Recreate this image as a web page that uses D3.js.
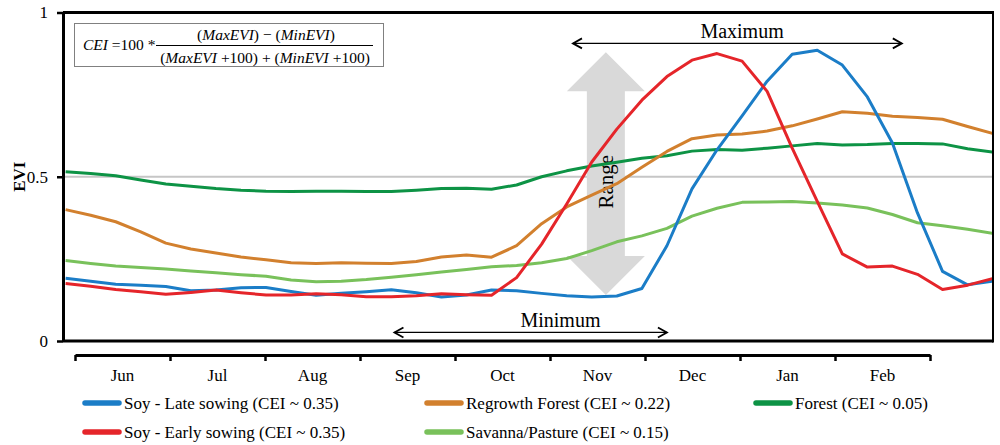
<!DOCTYPE html>
<html>
<head>
<meta charset="utf-8">
<script src="https://cdn.jsdelivr.net/npm/d3@7"></script>
<style>
  body { margin: 0; background: #fff; }
  svg { display: block; font-family: 'Liberation Serif', 'Times New Roman', serif; }
</style>
</head>
<body>
<div id="chart"></div>
<script>
// 8-day composites, day 0 = 1 June
const days = [-3, 5, 13, 21, 29, 37, 45, 53, 61, 69, 77, 85, 93, 101, 109, 117, 125, 133, 141,
  149, 157, 165, 173, 181, 189, 197, 205, 213, 221, 229, 237, 245, 253, 261, 269, 277, 285, 293];

const months = ['Jun', 'Jul', 'Aug', 'Sep', 'Oct', 'Nov', 'Dec', 'Jan', 'Feb'];
const monthDays = 273; // 1 Jun -> 1 Mar

const soyLate = [.191, .182, .173, .170, .166, .153, .155, .162, .163, .151, .139, .145, .150,
  .156, .147, .134, .140, .155, .153, .145, .138, .134, .137, .160, .290, .463, .582, .685,
  .791, .873, .885, .840, .743, .603, .390, .212, .171, .182];
const soyEarly = [.175, .167, .157, .150, .142, .148, .155, .147, .140, .140, .144, .141, .135,
  .135, .138, .144, .141, .139, .193, .295, .417, .545, .645, .733, .805, .855, .875, .852,
  .760, .587, .425, .265, .225, .228, .203, .157, .170, .190];
const regrowth = [.400, .383, .363, .332, .298, .280, .268, .256, .247, .238, .236, .238, .237,
  .236, .242, .256, .262, .255, .290, .357, .408, .444, .479, .529, .577, .616, .627, .630,
  .639, .655, .676, .698, .693, .684, .680, .675, .653, .632];
const forest = [.515, .510, .503, .490, .478, .471, .464, .459, .456, .455, .456, .456, .455,
  .455, .459, .464, .465, .462, .475, .500, .518, .533, .544, .556, .564, .578, .583, .581,
  .587, .594, .601, .597, .598, .601, .601, .600, .585, .575];
const savanna = [.245, .236, .228, .224, .219, .213, .208, .202, .197, .186, .180, .182, .187,
  .194, .202, .210, .218, .226, .230, .238, .251, .275, .302, .320, .343, .380, .404, .422,
  .423, .425, .420, .414, .405, .385, .360, .351, .340, .328];

const yTicks = [0, 0.5, 1];

// annotation anchors in data units (day, EVI)
const maxSpan = [159, 264];
const maxLevel = 0.906;
const maxLabelDay = 213;
const minSpan = [102, 189];
const minLevel = 0.026;
const minLabelDay = 155;
const rangeDay = 169.5;
const rangeSpan = [0.140, 0.879];

class EviChart {
  constructor(element, options) {
    const defaults = {
      width: 1000,
      height: 445,
      plot: { left: 63, right: 993, top: 12.5, bottom: 341 },
      axisY: 355,
    };
    this.element = element;
    Object.assign(this, defaults, options);
    this.init();
  }

  init() {
    const { element, width, height, plot } = this;

    this.svg = d3.select(element)
      .append('svg')
      .attr('width', width)
      .attr('height', height);

    // day scale: month axis runs from 1 Jun (x=75) to 1 Mar (x=930)
    this.x = d3.scaleLinear()
      .domain([0, monthDays])
      .range([75, 930]);

    this.y = d3.scaleLinear()
      .domain([0, 1])
      .range([plot.bottom, plot.top]);

    this.line = d3.line()
      .x(d => this.x(d.day))
      .y(d => this.y(d.value));
  }

  renderFrame() {
    const { svg, y, plot } = this;

    svg.append('line')
      .attr('x1', plot.left).attr('x2', plot.right)
      .attr('y1', y(0.5)).attr('y2', y(0.5))
      .attr('stroke', '#c6c6c6')
      .attr('stroke-width', 2);

    const axis = svg.append('g')
      .attr('transform', `translate(${plot.left},0)`)
      .call(d3.axisLeft(y)
        .tickValues(yTicks)
        .tickFormat(d => (d === 0.5 ? '0.5' : d3.format('d')(d)))
        .tickSize(6)
        .tickSizeOuter(0)
        .tickPadding(9));
    axis.select('.domain').attr('stroke-width', 3);
    axis.selectAll('.tick line').attr('stroke-width', 2.5);
    axis.selectAll('.tick text')
      .attr('font-size', 17)
      .attr('font-family', 'Liberation Serif, serif');

    svg.append('line')
      .attr('x1', plot.left).attr('x2', plot.right)
      .attr('y1', plot.top).attr('y2', plot.top)
      .attr('stroke', '#000').attr('stroke-width', 3);
    svg.append('line')
      .attr('x1', plot.left).attr('x2', plot.right)
      .attr('y1', plot.bottom).attr('y2', plot.bottom)
      .attr('stroke', '#000').attr('stroke-width', 3);
    svg.append('line')
      .attr('x1', plot.right).attr('x2', plot.right)
      .attr('y1', plot.top - 1.5).attr('y2', plot.bottom + 1.5)
      .attr('stroke', '#000').attr('stroke-width', 2);

    svg.append('text')
      .attr('transform', `translate(19,${(plot.top + plot.bottom) / 2}) rotate(-90)`)
      .attr('text-anchor', 'middle')
      .attr('dy', '0.35em')
      .attr('font-size', 17)
      .attr('font-weight', 'bold')
      .text('EVI');
  }

  renderMonths() {
    const { svg, x, axisY } = this;

    const edges = d3.scaleLinear().domain([0, months.length]).range(x.range());
    const band = d3.scaleBand().domain(months).range(x.range());

    const ticks = svg.append('g')
      .attr('transform', `translate(0,${axisY})`)
      .call(d3.axisBottom(edges)
        .tickValues(d3.range(months.length + 1))
        .tickFormat('')
        .tickSize(6)
        .tickSizeOuter(0));
    ticks.select('.domain').attr('stroke-width', 3);
    ticks.selectAll('.tick line').attr('stroke-width', 2.5);

    const labels = svg.append('g')
      .attr('transform', `translate(0,${axisY + 14})`)
      .call(d3.axisBottom(band).tickSize(0).tickPadding(0));
    labels.select('.domain').remove();
    labels.selectAll('.tick text')
      .attr('font-size', 17)
      .attr('font-family', 'Liberation Serif, serif');
  }

  renderAnnotations() {
    const { svg, x, y } = this;

    // grey double block arrow for the range
    const cx = x(rangeDay);
    const top = y(rangeSpan[1]);
    const bottom = y(rangeSpan[0]);
    const head = 39;
    const half = 39;
    const shaft = 19;
    const pts = [
      [cx, top], [cx + half, top + head], [cx + shaft, top + head],
      [cx + shaft, bottom - head], [cx + half, bottom - head], [cx, bottom],
      [cx - half, bottom - head], [cx - shaft, bottom - head],
      [cx - shaft, top + head], [cx - half, top + head],
    ];
    svg.append('path')
      .attr('d', d3.line()(pts) + 'Z')
      .attr('fill', '#d9d9d9');

    svg.append('text')
      .attr('transform', `translate(${cx + 7},${(top + bottom) / 2 + 8}) rotate(-90)`)
      .attr('text-anchor', 'middle')
      .attr('font-size', 21)
      .text('Range');

    const arrow = (span, level, labelDay, label) => {
      const x1 = x(span[0]);
      const x2 = x(span[1]);
      const yy = y(level);
      svg.append('line')
        .attr('x1', x1).attr('x2', x2)
        .attr('y1', yy).attr('y2', yy)
        .attr('stroke', '#000').attr('stroke-width', 1.3);
      svg.append('path')
        .attr('d', `M${x1 + 9},${yy - 5}L${x1},${yy}L${x1 + 9},${yy + 5}`
          + `M${x2 - 9},${yy - 5}L${x2},${yy}L${x2 - 9},${yy + 5}`)
        .attr('fill', 'none')
        .attr('stroke', '#000')
        .attr('stroke-width', 1.8);
      svg.append('text')
        .attr('x', x(labelDay))
        .attr('y', yy - 5)
        .attr('text-anchor', 'middle')
        .attr('font-size', 20)
        .text(label);
    };
    arrow(maxSpan, maxLevel, maxLabelDay, 'Maximum');
    arrow(minSpan, minLevel, minLabelDay, 'Minimum');
  }

  renderFormula() {
    const { svg } = this;
    const g = svg.append('g').attr('font-size', 15.5);

    g.append('rect')
      .attr('x', 74.5).attr('y', 23.5)
      .attr('width', 309).attr('height', 43)
      .attr('fill', '#fff')
      .attr('stroke', '#808080')
      .attr('stroke-width', 1);

    const lhs = g.append('text').attr('x', 83).attr('y', 50);
    lhs.append('tspan').attr('font-style', 'italic').text('CEI');
    lhs.append('tspan').text(' =100 *');

    g.append('line')
      .attr('x1', 156).attr('x2', 373)
      .attr('y1', 45.5).attr('y2', 45.5)
      .attr('stroke', '#000').attr('stroke-width', 1);

    const num = g.append('text').attr('x', 266).attr('y', 40).attr('text-anchor', 'middle');
    num.append('tspan').text('(');
    num.append('tspan').attr('font-style', 'italic').text('MaxEVI');
    num.append('tspan').text(') \u2212 (');
    num.append('tspan').attr('font-style', 'italic').text('MinEVI');
    num.append('tspan').text(')');

    const den = g.append('text').attr('x', 265).attr('y', 63).attr('text-anchor', 'middle');
    den.append('tspan').text('(');
    den.append('tspan').attr('font-style', 'italic').text('MaxEVI');
    den.append('tspan').text(' +100) + (');
    den.append('tspan').attr('font-style', 'italic').text('MinEVI');
    den.append('tspan').text(' +100)');
  }

  renderLines(series) {
    const { svg, line, plot } = this;

    svg.append('clipPath')
      .attr('id', 'plot-clip')
      .append('rect')
      .attr('x', plot.left + 1.5).attr('y', plot.top + 1.5)
      .attr('width', plot.right - plot.left - 2.5)
      .attr('height', plot.bottom - plot.top - 3);

    svg.append('g')
      .attr('clip-path', 'url(#plot-clip)')
      .selectAll('path')
      .data(series.slice().sort((a, b) => a.drawOrder - b.drawOrder))
      .join('path')
      .attr('d', s => line(days.map((day, i) => ({ day, value: s.values[i] }))))
      .attr('fill', 'none')
      .attr('stroke', s => s.color)
      .attr('stroke-width', 3)
      .attr('stroke-linejoin', 'round');
  }

  renderLegend(series) {
    const { svg } = this;
    const cols = [83, 425, 754];
    const rows = [403, 432];

    const item = svg.append('g')
      .selectAll('g')
      .data(series)
      .join('g')
      .attr('transform', (s, i) => `translate(${cols[i % 3]},${rows[Math.floor(i / 3)]})`);

    item.append('line')
      .attr('x1', 2).attr('x2', 36)
      .attr('stroke', s => s.color)
      .attr('stroke-width', 5.5)
      .attr('stroke-linecap', 'round');

    item.append('text')
      .attr('x', 41)
      .attr('dy', '0.35em')
      .attr('font-size', 17)
      .text(s => s.name);
  }

  render(series) {
    this.renderFrame();
    this.renderMonths();
    this.renderAnnotations();
    this.renderLines(series);
    this.renderFormula();
    this.renderLegend(series);
  }
}

const series = [
  { name: 'Soy - Late sowing (CEI ~ 0.35)', values: soyLate, color: '#1b7dc7', drawOrder: 3 },
  { name: 'Regrowth Forest (CEI ~ 0.22)', values: regrowth, color: '#d2802e', drawOrder: 1 },
  { name: 'Forest (CEI ~ 0.05)', values: forest, color: '#0d9345', drawOrder: 0 },
  { name: 'Soy - Early sowing (CEI ~ 0.35)', values: soyEarly, color: '#e5252a', drawOrder: 4 },
  { name: 'Savanna/Pasture (CEI ~ 0.15)', values: savanna, color: '#79c15b', drawOrder: 2 },
];

const chart = new EviChart(document.getElementById('chart'));
chart.render(series);
</script>
</body>
</html>
